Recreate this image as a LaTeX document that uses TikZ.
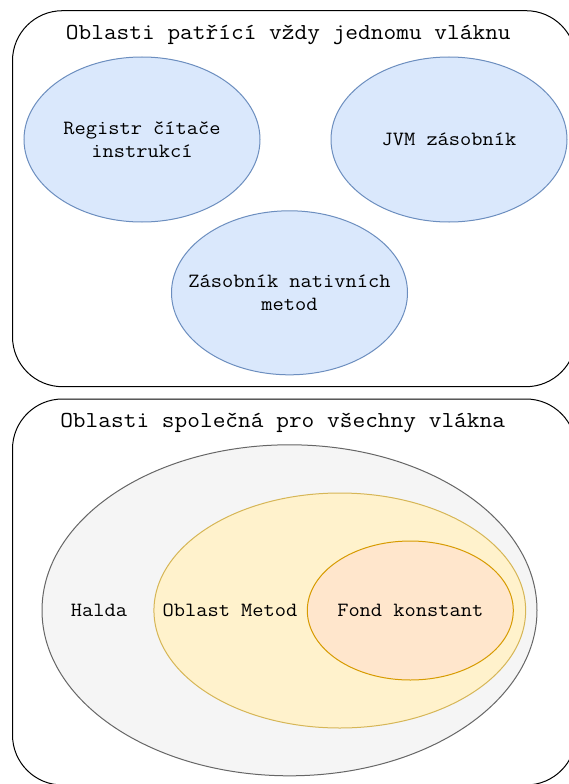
\documentclass[tikz,border=0pt]{standalone}
\usepackage{fontspec}
\setmonofont[FakeStretch=1.08]{Latin Modern Mono}
\usetikzlibrary{shapes.geometric}

\definecolor{blueFill}{HTML}{DAE8FC}
\definecolor{blueLine}{HTML}{6C8EBF}
\definecolor{grayFill}{HTML}{F5F5F5}
\definecolor{grayLine}{HTML}{666666}
\definecolor{yellowFill}{HTML}{FFF2CC}
\definecolor{yellowLine}{HTML}{D6B656}
\definecolor{orangeFill}{HTML}{FFE6CC}
\definecolor{orangeLine}{HTML}{D79B00}

\tikzset{
  region/.style={draw=black, line width=1pt, rectangle, rounded corners=50pt,
    inner sep=0pt, fill=white},
  title/.style={anchor=base, inner sep=0pt,
    font=\ttfamily\fontsize{22.85}{26}\selectfont},
  area/.style={ellipse, line width=1pt, inner sep=0pt},
  threadarea/.style={area, draw=blueLine, fill=blueFill,
    minimum width=236pt, minimum height=165pt},
  areatext/.style={inner sep=0pt, align=center,
    font=\ttfamily\fontsize{20.2}{23.3}\selectfont},
}

\begin{document}
\begin{tikzpicture}[x=1pt, y=-1pt]
  \clip (0,0) rectangle (569,784);
  \fill[white] (0,0) rectangle (569,784);

  % per-thread memory areas
  \node[region, minimum width=563.5pt, minimum height=376pt] (perthread) at (294.25,198.7) {};
  \node[title] (perthreadTitle) at (288.3,39.2) {Oblasti patřící vždy jednomu vláknu};
  \node[threadarea] (pc) at (142,139.5) {};
  \node[areatext] (pcText) at (pc.center) {Registr čítače\\instrukcí};
  \node[threadarea] (jvmstack) at (449,139.5) {};
  \node[areatext] (jvmstackText) at (jvmstack.center) {JVM zásobník};
  \node[threadarea, minimum height=164pt] (nativestack) at (289.5,292.8) {};
  \node[areatext] (nativestackText) at (nativestack.center) {Zásobník nativních\\metod};

  % shared memory areas
  \node[region, minimum width=563.5pt, minimum height=386pt] (shared) at (294.25,592) {};
  \node[title] (sharedTitle) at (282.7,427) {Oblasti společná pro všechny vlákna};
  \node[area, draw=grayLine, fill=grayFill, minimum width=495pt, minimum height=331pt]
    (heap) at (289.5,610.3) {};
  \node[area, draw=yellowLine, fill=yellowFill, minimum width=371.7pt, minimum height=235pt]
    (methodarea) at (339.8,610.5) {};
  \node[area, draw=orangeLine, fill=orangeFill, minimum width=206pt, minimum height=139pt]
    (constpool) at (410.3,610.5) {};
  \node[areatext] (constpoolText) at (constpool.center) {Fond konstant};
  \node[areatext] (heapText) at (99,610) {Halda};
  \node[areatext] (methodText) at (230,610) {Oblast Metod};
\end{tikzpicture}
\end{document}
